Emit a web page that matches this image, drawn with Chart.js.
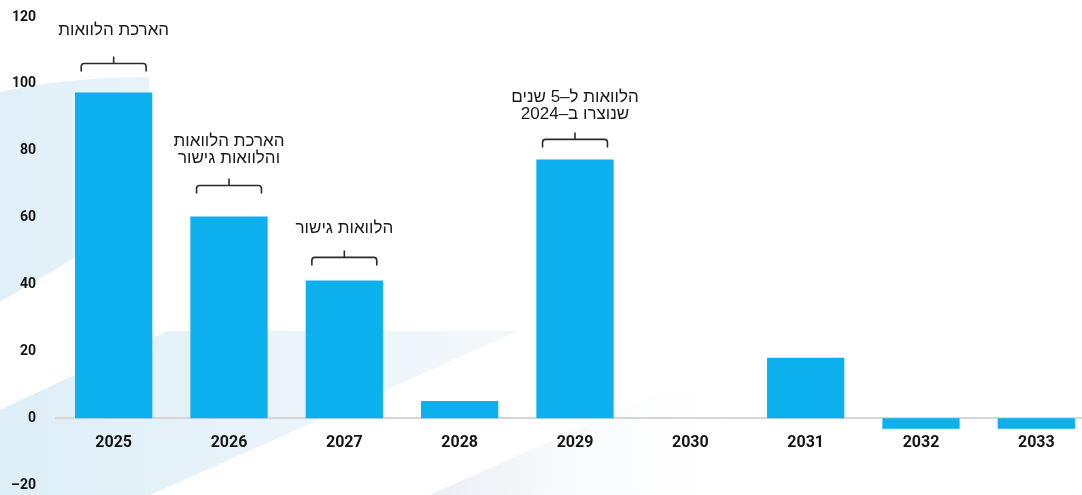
<!DOCTYPE html>
<html lang="he">
<head>
<meta charset="utf-8">
<title>פירעונות לפי שנה</title>
<script src="https://cdn.jsdelivr.net/npm/chart.js@4"></script>
<style>
  html, body { margin: 0; padding: 0; background: #fff; overflow: hidden; }
  #wrap { width: 1094px; height: 495px; }
</style>
</head>
<body>
<div id="wrap"><canvas id="chart" width="1094" height="495"></canvas></div>
<script>
const years = ['2025', '2026', '2027', '2028', '2029', '2030', '2031', '2032', '2033'];
const amounts = [97.4, 60.3, 41.2, 5.1, 77.4, 0, 18.1, -3.2, -3.2];
const yTicks = [-20, 0, 20, 40, 60, 80, 100, 120];

// notes over some of the bars, one entry per year (null = no note)
const notes = [
  ['הארכת הלוואות'],
  ['הארכת הלוואות', 'והלוואות גישור'],
  ['הלוואות גישור'],
  null,
  ['הלוואות ל–5 שנים', 'שנוצרו ב–2024'],
  null, null, null, null,
];

// light decorative shapes behind the plot
const backdrop = {
  id: 'backdrop',
  beforeDraw(chart) {
    const ctx = chart.ctx;
    ctx.save();
    ctx.fillStyle = '#fff';
    ctx.fillRect(0, 0, chart.width, chart.height);

    let g = ctx.createLinearGradient(0, 0, 150, 0);
    g.addColorStop(0, '#e0eff8');
    g.addColorStop(1, '#e8f3f9');
    ctx.fillStyle = g;
    ctx.beginPath();
    ctx.moveTo(0, 92);
    ctx.quadraticCurveTo(60, 78, 149, 77);
    ctx.lineTo(149, 214);
    ctx.lineTo(0, 302);
    ctx.closePath();
    ctx.fill();

    g = ctx.createLinearGradient(0, 0, 520, 0);
    g.addColorStop(0, '#ddeef7');
    g.addColorStop(1, '#f4f8fb');
    ctx.fillStyle = g;
    ctx.beginPath();
    ctx.moveTo(0, 410);
    ctx.lineTo(168, 331);
    ctx.lineTo(518, 331);
    ctx.lineTo(150, 495);
    ctx.lineTo(0, 495);
    ctx.closePath();
    ctx.fill();

    g = ctx.createLinearGradient(430, 0, 760, 0);
    g.addColorStop(0, 'rgba(232,237,243,0.9)');
    g.addColorStop(1, 'rgba(255,255,255,0)');
    ctx.fillStyle = g;
    ctx.beginPath();
    ctx.moveTo(430, 495);
    ctx.lineTo(668, 388);
    ctx.lineTo(760, 388);
    ctx.lineTo(760, 495);
    ctx.closePath();
    ctx.fill();
    ctx.restore();
  }
};

// bracket + text above the annotated bars
const braces = {
  id: 'braces',
  afterDatasetsDraw(chart, args, opts) {
    const ctx = chart.ctx;
    const meta = chart.getDatasetMeta(0);
    ctx.save();
    notes.forEach((lines, i) => {
      if (!lines) return;
      const bar = meta.data[i];
      const x = bar.x;
      const bottom = bar.y - opts.gaps[i];
      const half = bar.width * 0.42;
      const lineY = bottom - 8;

      ctx.strokeStyle = '#2b2b2b';
      ctx.lineWidth = 1.6;
      ctx.beginPath();
      ctx.moveTo(x - half, bottom);
      ctx.lineTo(x - half, lineY + 3);
      ctx.quadraticCurveTo(x - half, lineY, x - half + 3, lineY);
      ctx.lineTo(x + half - 3, lineY);
      ctx.quadraticCurveTo(x + half, lineY, x + half, lineY + 3);
      ctx.lineTo(x + half, bottom);
      ctx.moveTo(x, lineY);
      ctx.lineTo(x, lineY - 7);
      ctx.stroke();

      ctx.fillStyle = '#1a1a1a';
      ctx.font = opts.font;
      ctx.direction = 'rtl';
      ctx.textAlign = 'center';
      ctx.textBaseline = 'middle';
      const last = lineY - 7 - opts.textGap[i];
      lines.forEach((t, k) => {
        ctx.fillText(t, x, last - (lines.length - 1 - k) * 17);
      });
    });
    ctx.restore();
  }
};

new Chart('chart', {
  type: 'bar',
  data: {
    labels: years,
    datasets: [
      {
        data: amounts,
        backgroundColor: '#0bb0ec',
        borderWidth: 0,
        barPercentage: 0.67,
        categoryPercentage: 1,
      },
    ],
  },
  options: {
    responsive: false,
    animation: false,
    layout: { padding: { top: 17, bottom: 10, left: 0, right: 0 } },
    plugins: {
      legend: { display: false },
      tooltip: { enabled: false },
      braces: {
        gaps: [21, 23, 15, 0, 12, 0, 0, 0, 0],
        textGap: [26, 20, 22, 0, 18, 0, 0, 0, 0],
        font: '17px "Liberation Sans Narrow", "Liberation Sans", sans-serif',
      },
    },
    scales: {
      x: {
        position: { y: 0 },
        afterFit: (scale) => { scale.height = 0; },
        grid: { display: false, drawTicks: false },
        border: { display: true, color: '#d6d6d6', width: 2 },
        ticks: {
          color: '#141414',
          padding: 15,
          font: { family: 'Roboto', size: 16, weight: 'bold' },
        },
      },
      y: {
        min: -20,
        max: 120,
        afterFit: (scale) => {
          // fixed gutter, and no extra room above/below the end labels
          scale.width = 56;
          scale.paddingTop = 0;
          scale.paddingBottom = 0;
        },
        afterBuildTicks: (scale) => { scale.ticks = yTicks.map((v) => ({ value: v })); },
        grid: { display: false, drawTicks: false },
        border: { display: false },
        ticks: {
          color: '#141414',
          padding: 20,
          font: { family: 'Roboto', size: 14, weight: 'bold' },
          callback: (v) => String(v).replace('-', '–'),
        },
      },
    },
  },
  plugins: [backdrop, braces],
});
</script>
</body>
</html>
